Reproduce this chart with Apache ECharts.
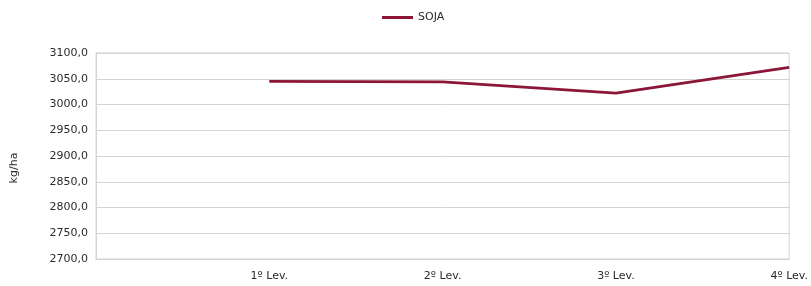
<!DOCTYPE html>
<html>
<head>
<meta charset="utf-8">
<script src="https://cdn.jsdelivr.net/npm/echarts@6/dist/echarts.min.js"></script>
<style>
  html, body { margin: 0; padding: 0; background: #fff; }
  #main { width: 811px; height: 286px; }
</style>
</head>
<body>
<div id="main"></div>
<script>
// first slot is empty: Excel left a blank category before 1º Lev.
const categories = ["", "1º Lev.", "2º Lev.", "3º Lev.", "4º Lev."];
const soja = [null, 3045, 3044, 3022, 3072];
const seriesName = "SOJA";
const axisName = "kg/ha";

const lineColor = "#8C1538";
const gridColor = "#d4d4d4";
const textColor = "#2b2b2b";
const font = "DejaVu Sans";

const myChart = echarts.init(document.getElementById("main"));

const option = {
  animation: false,
  textStyle: { fontFamily: font },
  legend: {
    left: 382,
    top: 12,
    padding: 0,
    icon: "rect",
    itemWidth: 31,
    itemHeight: 3,
    itemGap: 5,
    textStyle: { fontFamily: font, fontSize: 11, color: textColor },
    data: [seriesName],
  },
  grid: {
    left: 96,
    right: 21,
    top: 53,
    bottom: 27,
    show: true,
    borderColor: gridColor,
    borderWidth: 1,
  },
  xAxis: {
    type: "category",
    data: categories,
    boundaryGap: false,
    axisLine: { show: true, lineStyle: { color: gridColor, width: 1 } },
    axisTick: { show: false },
    axisLabel: {
      interval: 0,
      margin: 12,
      fontFamily: font,
      fontSize: 11,
      color: textColor,
    },
    splitLine: { show: false },
  },
  yAxis: {
    type: "value",
    min: 2700,
    max: 3100,
    interval: 50,
    name: axisName,
    nameLocation: "middle",
    nameGap: 76,
    nameTextStyle: {
      fontFamily: font,
      fontSize: 11,
      color: textColor,
      padding: [0, 24, 0, 0],
    },
    axisLine: { show: true, lineStyle: { color: gridColor, width: 1 } },
    axisTick: { show: false },
    axisLabel: {
      margin: 8,
      fontFamily: font,
      fontSize: 11,
      color: textColor,
      formatter: v => v.toFixed(1).replace(".", ","),
    },
    splitLine: { show: true, lineStyle: { color: gridColor, width: 1 } },
  },
  series: [
    {
      name: seriesName,
      type: "line",
      data: soja,
      symbol: "none",
      connectNulls: false,
      lineStyle: { color: lineColor, width: 2.8 },
      itemStyle: { color: lineColor },
    },
  ],
};

myChart.setOption(option);
</script>
</body>
</html>
